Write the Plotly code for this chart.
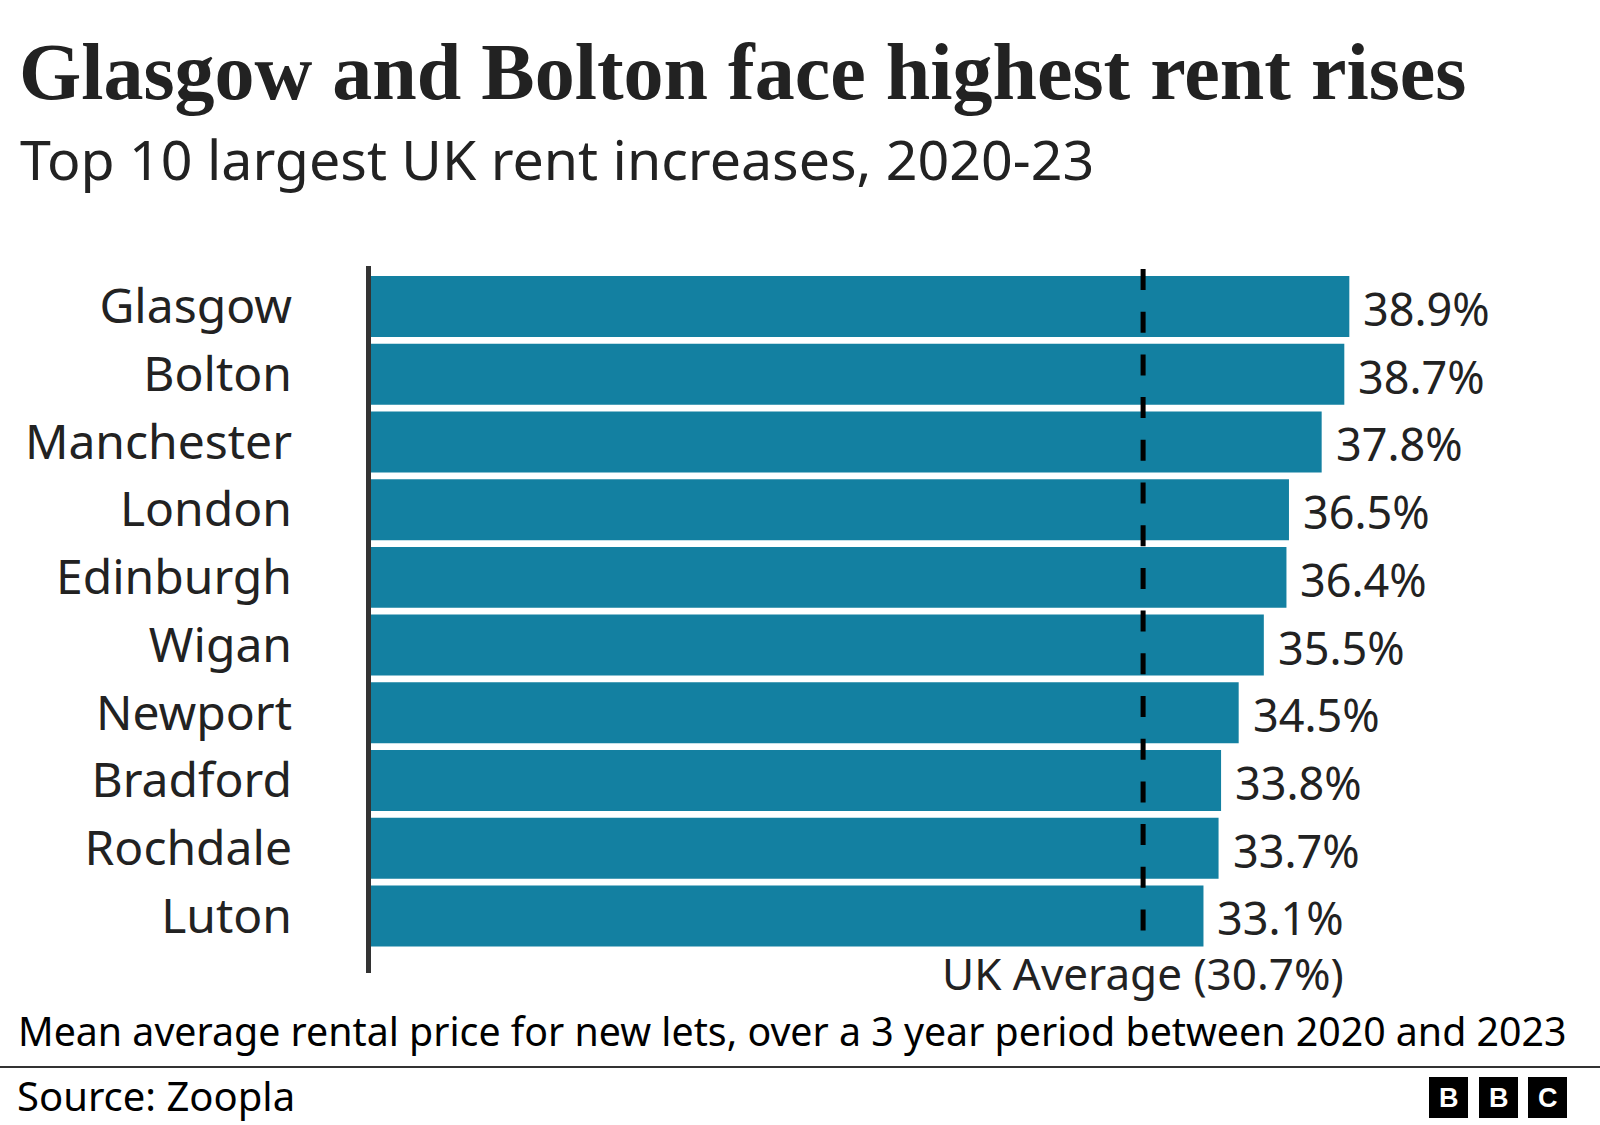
import plotly.graph_objects as go

cities = ["Glasgow", "Bolton", "Manchester", "London", "Edinburgh",
          "Wigan", "Newport", "Bradford", "Rochdale", "Luton"]
increase = [38.9, 38.7, 37.8, 36.5, 36.4, 35.5, 34.5, 33.8, 33.7, 33.1]
uk_average = 30.7

title = "Glasgow and Bolton face highest rent rises"
subtitle = "Top 10 largest UK rent increases, 2020-23"
note = "Mean average rental price for new lets, over a 3 year period between 2020 and 2023"
source = "Source: Zoopla"

W, H = 1600, 1125
L, T, B = 371, 266, 152
PW = W - L
PH = H - T - B
PXPU = 25.15  # pixels per percent

def px(xp):
    return (xp - L) / PW

def py(yp):
    return (T + PH - yp) / PH

SANS = "Noto Sans"
TEXT = "#222222"

fig = go.Figure()
fig.add_trace(go.Bar(
    x=increase, y=cities, orientation="h",
    marker=dict(color="#1380A1", line=dict(width=0)),
    width=0.9, hoverinfo="skip",
))

annotations = []
for c, v in zip(cities, increase):
    annotations.append(dict(
        x=v, y=c, xref="x", yref="y", text=f"{v:.1f}%", showarrow=False,
        xanchor="left", yanchor="middle", xshift=12, yshift=-2,
        font=dict(family=SANS, size=45, color=TEXT),
    ))

annotations.append(dict(
    x=uk_average, y=py(973), xref="x", yref="paper",
    text=f"UK Average ({uk_average}%)", showarrow=False,
    xanchor="center", yanchor="middle",
    font=dict(family=SANS, size=44, color=TEXT),
))

annotations += [
    dict(x=px(17), y=py(72), xref="paper", yref="paper", text=f"<b>{title}</b>",
         showarrow=False, xanchor="left", yanchor="middle",
         font=dict(family="Liberation Serif", size=80, color=TEXT)),
    dict(x=px(18), y=py(158), xref="paper", yref="paper", text=subtitle,
         showarrow=False, xanchor="left", yanchor="middle",
         font=dict(family=SANS, size=55.5, color=TEXT)),
    dict(x=px(16), y=py(1031), xref="paper", yref="paper", text=note,
         showarrow=False, xanchor="left", yanchor="middle",
         font=dict(family=SANS, size=39.3, color="#000000")),
    dict(x=px(15), y=py(1095), xref="paper", yref="paper", text=source,
         showarrow=False, xanchor="left", yanchor="middle",
         font=dict(family=SANS, size=40, color="#000000")),
]

shapes = [
    # vertical axis line
    dict(type="line", xref="paper", x0=px(368.5), x1=px(368.5),
         yref="paper", y0=0, y1=1, line=dict(color="#333333", width=5)),
    # UK average dashed line
    dict(type="line", xref="x", x0=uk_average, x1=uk_average,
         yref="paper", y0=py(269), y1=py(932),
         line=dict(color="#000000", width=5, dash="21px,21.7px")),
    # footer rule
    dict(type="line", xref="paper", x0=px(0), x1=px(W), yref="paper",
         y0=py(1067), y1=py(1067), line=dict(color="#333333", width=2)),
]

logo_boxes = [(1429, 1468, "B"), (1479, 1518, "B"), (1528, 1567, "C")]
for x0, x1, letter in logo_boxes:
    shapes.append(dict(type="rect", xref="paper", yref="paper",
                       x0=px(x0), x1=px(x1), y0=py(1118), y1=py(1077),
                       fillcolor="#000000", line=dict(width=0)))
    annotations.append(dict(x=px((x0 + x1) / 2), y=py(1098), xref="paper", yref="paper",
                            text=f"<b>{letter}</b>", showarrow=False,
                            xanchor="center", yanchor="middle",
                            font=dict(family="Liberation Sans", size=27, color="#ffffff")))

fig.update_layout(
    width=W, height=H,
    margin=dict(l=L, r=0, t=T, b=B, pad=0),
    paper_bgcolor="#ffffff", plot_bgcolor="#ffffff",
    showlegend=False,
    xaxis=dict(range=[0, PW / PXPU], visible=False, fixedrange=True),
    yaxis=dict(type="category", categoryorder="array", categoryarray=cities,
               range=[9.842, -0.598], showgrid=False, zeroline=False, showline=False,
               ticks="", ticklabelstandoff=78,
               tickfont=dict(family=SANS, size=48, color=TEXT), fixedrange=True),
    annotations=annotations,
    shapes=shapes,
)

fig.write_html("out.html", config={"displayModeBar": False},
               post_script="document.body.style.margin='0';")
